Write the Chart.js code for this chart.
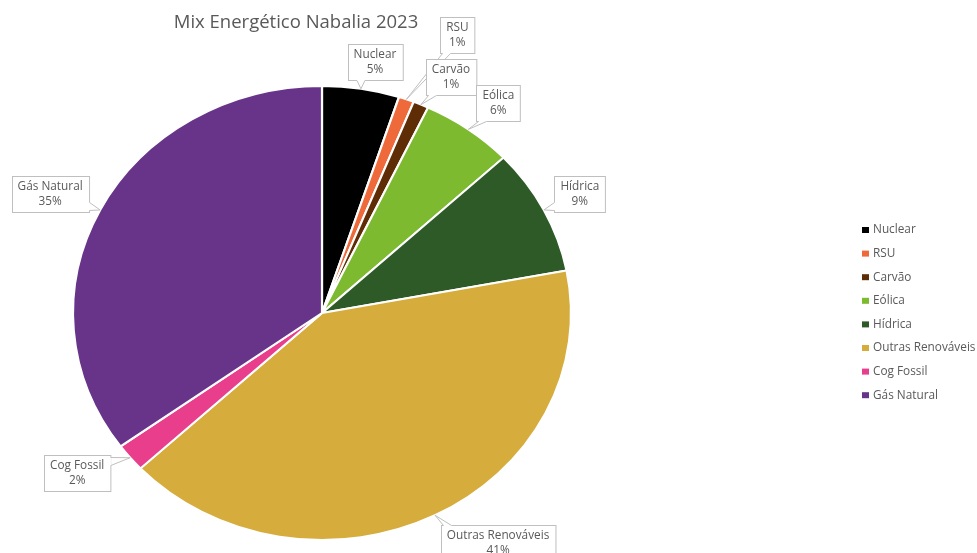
<!DOCTYPE html>
<html>
<head>
<meta charset="utf-8">
<script src="https://cdn.jsdelivr.net/npm/chart.js@4.4.1/dist/chart.umd.min.js"></script>
<style>
  html, body { margin: 0; padding: 0; background: #fff; }
</style>
</head>
<body>
<canvas id="mix" width="977" height="553"></canvas>
<script>
// data
const categories = ['Nuclear', 'RSU', 'Carvão', 'Eólica', 'Hídrica', 'Outras Renováveis', 'Cog Fossil', 'Gás Natural'];
const shares = [5, 1, 1, 6, 9, 41, 2, 35];
const sliceColors = ['#000000', '#EE6A3A', '#5E2D06', '#7DBA2F', '#2D5A27', '#D6AC3D', '#E83E8C', '#673489'];

// where each callout box sits relative to its slice edge (Excel placed them by hand)
const calloutOffsets = [[14, -27], [51, -64], [30, -28], [30, -26], [36, -16], [63, 28], [-53, 15], [-50, -16]];

const TEXT = '#595959';
const FONT = '"Open Sans", "Liberation Sans", sans-serif';
const STRETCH = 249 / 227; // the original pie is a little wider than tall

const ellipse = {
  id: 'ellipse',
  beforeDatasetsDraw(chart) {
    const { x, y } = chart.getDatasetMeta(0).data[0];
    const ctx = chart.ctx;
    ctx.save();
    ctx.translate(x, y);
    ctx.scale(STRETCH, 1);
    ctx.translate(-x, -y);
  },
  afterDatasetsDraw(chart) {
    chart.ctx.restore();
  }
};

const callouts = {
  id: 'callouts',
  afterDraw(chart) {
    const ctx = chart.ctx;
    const total = shares.reduce((a, b) => a + b, 0);
    ctx.save();
    ctx.font = '11.8px ' + FONT;
    ctx.textAlign = 'center';
    ctx.textBaseline = 'middle';

    chart.getDatasetMeta(0).data.forEach((arc, i) => {
      const { x, y, startAngle, endAngle, outerRadius } = arc.getProps(['x', 'y', 'startAngle', 'endAngle', 'outerRadius'], true);
      const mid = (startAngle + endAngle) / 2;
      const ax = x + outerRadius * STRETCH * Math.cos(mid);
      const ay = y + outerRadius * Math.sin(mid);

      const line1 = categories[i];
      const line2 = Math.round(shares[i] / total * 100) + '%';
      const w = Math.max(ctx.measureText(line1).width, ctx.measureText(line2).width) + 12;
      const h = 36;
      const cx = ax + calloutOffsets[i][0];
      const cy = ay + calloutOffsets[i][1];
      const left = Math.round(cx - w / 2) + 0.5, top = Math.round(cy - h / 2) + 0.5;
      const right = left + w, bottom = top + h;

      // tail attach points on the box edge nearest to the slice
      let p1, p2;
      const clamp = (v, a, b) => Math.max(a, Math.min(b, v));
      if (ay > bottom) {
        const px = clamp(ax, left + 6, right - 6);
        p1 = [px - 4, bottom]; p2 = [px + 4, bottom];
      } else if (ay < top) {
        const px = clamp(ax, left + 6, right - 6);
        p1 = [px - 4, top]; p2 = [px + 4, top];
      } else if (ax < left) {
        const py = clamp(ay, top + 6, bottom - 6);
        p1 = [left, py - 4]; p2 = [left, py + 4];
      } else {
        const py = clamp(ay, top + 6, bottom - 6);
        p1 = [right, py - 4]; p2 = [right, py + 4];
      }

      ctx.fillStyle = '#ffffff';
      ctx.fillRect(left, top, w, h);
      ctx.beginPath();
      ctx.moveTo(p1[0], p1[1]);
      ctx.lineTo(ax, ay);
      ctx.lineTo(p2[0], p2[1]);
      ctx.closePath();
      ctx.fill();

      ctx.strokeStyle = '#BFBFBF';
      ctx.lineWidth = 1;
      ctx.strokeRect(left, top, w, h);
      ctx.beginPath();
      ctx.moveTo(p1[0], p1[1]);
      ctx.lineTo(p2[0], p2[1]);
      ctx.strokeStyle = '#ffffff';
      ctx.lineWidth = 1.5;
      ctx.stroke();
      ctx.beginPath();
      ctx.moveTo(p1[0], p1[1]);
      ctx.lineTo(ax, ay);
      ctx.lineTo(p2[0], p2[1]);
      ctx.strokeStyle = '#BFBFBF';
      ctx.lineWidth = 1;
      ctx.stroke();

      ctx.fillStyle = TEXT;
      ctx.fillText(line1, cx, cy - 7.5);
      ctx.fillText(line2, cx, cy + 7.5);
    });

    // title
    ctx.font = '18.5px ' + FONT;
    ctx.fillStyle = TEXT;
    ctx.fillText('Mix Energético Nabalia 2023', 296, 23);

    // legend
    ctx.font = '11.8px ' + FONT;
    ctx.textAlign = 'left';
    categories.forEach((name, i) => {
      const ly = 230 + i * 23.6;
      ctx.fillStyle = sliceColors[i];
      ctx.fillRect(862, ly - 3, 7, 6);
      ctx.fillStyle = TEXT;
      ctx.fillText(name, 873, ly);
    });
    ctx.restore();
  }
};

new Chart(document.getElementById('mix'), {
  type: 'pie',
  data: {
    labels: categories,
    datasets: [{
      data: shares,
      backgroundColor: sliceColors,
      borderColor: '#ffffff',
      borderWidth: 2
    }]
  },
  options: {
    responsive: false,
    animation: false,
    layout: { padding: { top: 85, bottom: 12, left: 0, right: 333 } },
    plugins: {
      legend: { display: false },
      title: { display: false },
      tooltip: { enabled: false }
    }
  },
  plugins: [ellipse, callouts]
});
</script>
</body>
</html>
